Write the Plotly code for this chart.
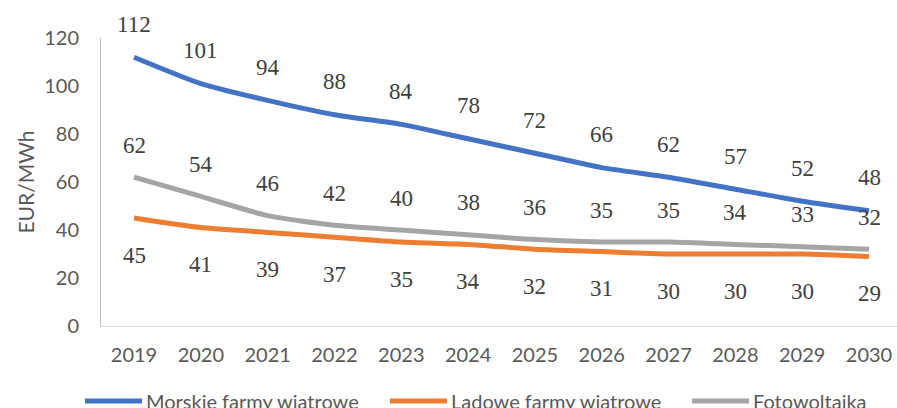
import plotly.graph_objects as go

# Levelised cost of electricity by technology, EUR/MWh
years = ["2019", "2020", "2021", "2022", "2023", "2024",
         "2025", "2026", "2027", "2028", "2029", "2030"]
morskie = [112, 101, 94, 88, 84, 78, 72, 66, 62, 57, 52, 48]
ladowe = [45, 41, 39, 37, 35, 34, 32, 31, 30, 30, 30, 29]
foto = [62, 54, 46, 42, 40, 38, 36, 35, 35, 34, 33, 32]

series_names = ["Morskie farmy wiatrowe", "Lądowe farmy wiatrowe", "Fotowoltaika"]
series_values = [morskie, ladowe, foto]
colors = ["#4472C4", "#ED7D31", "#A5A5A5"]
label_shift = [33, -37, 32]

W, H = 897, 408
ML, MR, MT, MB = 101, 0, 38, 82
plot_w, plot_h = W - ML - MR, H - MT - MB


def px_x(px):
    return (px - ML) / plot_w


def px_y(py):
    return (H - MB - py) / plot_h


fig = go.Figure()
for name, vals, col in zip(series_names, series_values, colors):
    fig.add_trace(go.Scatter(
        x=years, y=vals, name=name, mode="lines",
        line=dict(color=col, width=5, shape="spline", smoothing=0.6),
    ))

# value labels; category positions are addressed by index on the category axis
annotations = []
for vals, shift in zip(series_values, label_shift):
    for i, v in enumerate(vals):
        annotations.append(dict(
            x=i, y=v, xref="x", yref="y", text=str(v), showarrow=False,
            yshift=shift,
            font=dict(family="Liberation Serif", size=23, color="#404040"),
        ))

sans = "Lato"

# legend row under the axis: a line swatch followed by the series name
legend_starts = [85, 390, 692]
swatch_len = 57
legend_y = 401
shapes = []
for name, col, x0 in zip(series_names, colors, legend_starts):
    shapes.append(dict(
        type="line", xref="paper", yref="paper",
        x0=px_x(x0), x1=px_x(x0 + swatch_len),
        y0=px_y(legend_y), y1=px_y(legend_y),
        line=dict(color=col, width=5),
    ))
    annotations.append(dict(
        x=px_x(x0 + swatch_len + 2), y=px_y(legend_y),
        xref="paper", yref="paper", xanchor="left", yanchor="middle",
        text=name, showarrow=False,
        font=dict(family=sans, size=20, color="#595959"),
    ))

fig.update_layout(
    width=W, height=H,
    margin=dict(l=ML, r=MR, t=MT, b=MB, autoexpand=False),
    paper_bgcolor="white", plot_bgcolor="white",
    annotations=annotations,
    shapes=shapes,
    font=dict(family=sans, size=20, color="#595959"),
    showlegend=False,
    xaxis=dict(
        type="category", range=[-0.494, 11.419],
        showline=True, linecolor="#D9D9D9", linewidth=1,
        showgrid=False, zeroline=False, ticks="",
        ticklabelstandoff=11,
        tickfont=dict(family=sans, size=20, color="#595959"),
    ),
    yaxis=dict(
        range=[0, 120], dtick=20, tick0=0,
        showline=True, linecolor="#BFBFBF", linewidth=1,
        showgrid=False, zeroline=False, ticks="",
        ticklabelstandoff=17,
        tickfont=dict(family=sans, size=20, color="#595959"),
        title=dict(text="EUR/MWh", standoff=3,
                   font=dict(family=sans, size=21, color="#595959")),
    ),
)

fig.write_html("out.html")
